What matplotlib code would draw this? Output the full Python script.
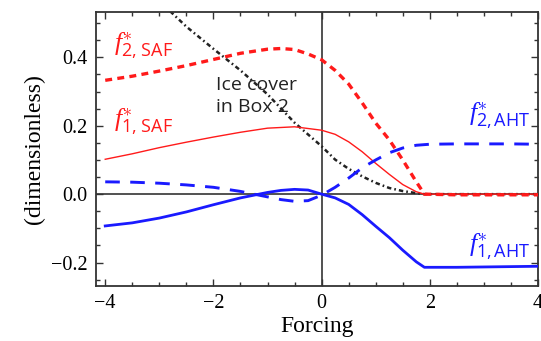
import matplotlib
matplotlib.use("Agg")
import matplotlib.pyplot as plt
from matplotlib.ticker import MultipleLocator

plt.rcParams['mathtext.fontset'] = 'custom'
plt.rcParams['mathtext.it'] = 'Liberation Serif:italic'
plt.rcParams['mathtext.rm'] = 'Open Sans'
plt.rcParams['mathtext.sf'] = 'Open Sans'
plt.rcParams['lines.scale_dashes'] = False

# ---- data ----
x_f2saf = [-4, -3.5, -3, -2.5, -2, -1.5, -1, -0.75, -0.5, -0.25, 0, 0.25, 0.5, 0.75,
           1.0, 1.25, 1.5, 1.75, 1.9, 2.5, 3, 3.5, 4]
y_f2saf = [0.333, 0.345, 0.360, 0.376, 0.394, 0.412, 0.424, 0.426, 0.423, 0.410, 0.393,
           0.362, 0.322, 0.267, 0.208, 0.159, 0.100, 0.036, 0.0, -0.002, -0.002, -0.002, -0.002]

x_f1saf = [-4, -3.5, -3, -2.5, -2, -1.5, -1, -0.5, 0, 0.25, 0.5, 0.75, 1.0, 1.25, 1.5,
           1.75, 1.9, 2.5, 3, 3.5, 4]
y_f1saf = [0.102, 0.118, 0.136, 0.152, 0.167, 0.181, 0.193, 0.197, 0.187, 0.175, 0.153,
           0.124, 0.090, 0.058, 0.028, 0.007, 0.0, 0.0, 0.0, 0.0, 0.0]

x_ice = [-2.8, -2.5, -2, -1.5, -1, -0.5, 0, 0.25, 0.5, 0.75, 1.0, 1.25, 1.5, 1.75, 1.9,
         2.5, 3, 3.5, 4]
y_ice = [0.535, 0.490, 0.425, 0.362, 0.292, 0.209, 0.140, 0.101, 0.074, 0.052, 0.033,
         0.018, 0.009, 0.003, 0.0, 0.0, 0.0, 0.0, 0.0]

x_f2aht = [-4, -3.5, -3, -2.5, -2, -1.5, -1, -0.75, -0.5, -0.25, 0, 0.25, 0.5, 0.75,
           1.0, 1.25, 1.5, 1.75, 2, 2.5, 3, 3.5, 4]
y_f2aht = [0.036, 0.035, 0.032, 0.027, 0.020, 0.008, -0.008, -0.016, -0.021, -0.019,
           -0.003, 0.020, 0.047, 0.077, 0.100, 0.121, 0.135, 0.143, 0.146, 0.147, 0.147,
           0.147, 0.146]

x_f1aht = [-4, -3.5, -3, -2.5, -2, -1.5, -1, -0.75, -0.5, -0.25, 0, 0.25, 0.5, 0.75,
           1.0, 1.25, 1.5, 1.75, 1.9, 2.5, 3, 3.5, 4]
y_f1aht = [-0.093, -0.084, -0.070, -0.052, -0.031, -0.011, 0.005, 0.011, 0.014, 0.012,
           0.0, -0.011, -0.030, -0.060, -0.094, -0.127, -0.164, -0.198, -0.214, -0.214,
           -0.213, -0.212, -0.211]

xticks = [-4, -2, 0, 2, 4]
yticks = [-0.2, 0.0, 0.2, 0.4]

RED = '#ff1a1a'
BLUE = '#1a1aff'

fig = plt.figure(figsize=(5.41, 3.41), dpi=100)
ax = fig.add_axes([0.1775, 0.162, 0.817, 0.802])

ax.axhline(0, color='#333333', lw=1.2, zorder=1.5)
ax.axvline(0, color='#333333', lw=1.2, zorder=1.5)

ax.plot(x_ice, y_ice, color='#222222', lw=1.8, dashes=(3.2, 2.2, 1.2, 2.2), zorder=2)
ax.plot(x_f1saf, y_f1saf, color=RED, lw=1.0, zorder=3)
ax.plot(x_f2saf, y_f2saf, color=RED, lw=2.4, dashes=(5.0, 3.8), zorder=3)
ax.plot(x_f2aht, y_f2aht, color=BLUE, lw=2.1, dashes=(10.5, 7.5), zorder=3)
ax.plot(x_f1aht, y_f1aht, color=BLUE, lw=2.0, zorder=3)

ax.set_xlim(-4.17, 4.0)
ax.set_ylim(-0.268, 0.532)
ax.set_xticks(xticks)
ax.set_yticks(yticks)
ax.set_xticklabels(['\u22124', '\u22122', '0', '2', '4'])
ax.set_yticklabels(['\u22120.2', '0.0', '0.2', '0.4'])
ax.xaxis.set_minor_locator(MultipleLocator(0.5))
ax.yaxis.set_minor_locator(MultipleLocator(0.05))
ax.tick_params(which='both', direction='in', top=True, right=True, color='#333333',
               width=1.0)
ax.tick_params(which='major', length=5, labelsize=14.5, pad=6)
ax.tick_params(which='minor', length=3)
for lab in ax.get_xticklabels() + ax.get_yticklabels():
    lab.set_fontfamily('Liberation Serif')
for s in ax.spines.values():
    s.set_color('#333333')
    s.set_linewidth(1.3)

ax.set_xlabel('Forcing', fontfamily='Liberation Serif', fontsize=17, labelpad=2)
ax.set_ylabel('(dimensionless)', fontfamily='Liberation Serif', fontsize=17, labelpad=4)

lab_kw = dict(fontsize=18.5, ha='left', va='center')
ax.text(-3.84, 0.433, r'$f^{\ast}_{\mathsf{2,\,SAF}}$', color=RED, **lab_kw)
ax.text(-3.84, 0.212, r'$f^{\ast}_{\mathsf{1,\,SAF}}$', color=RED, **lab_kw)
ax.text(2.72, 0.230, r'$f^{\ast}_{\mathsf{2,AHT}}$', color=BLUE, **lab_kw)
ax.text(2.72, -0.153, r'$f^{\ast}_{\mathsf{1,AHT}}$', color=BLUE, **lab_kw)
ax.text(-1.96, 0.287, 'Ice cover\nin Box 2', fontfamily='Open Sans', fontsize=14,
        color='#222222', ha='left', va='center', linespacing=1.25)

fig.savefig('out.png', dpi=100)
